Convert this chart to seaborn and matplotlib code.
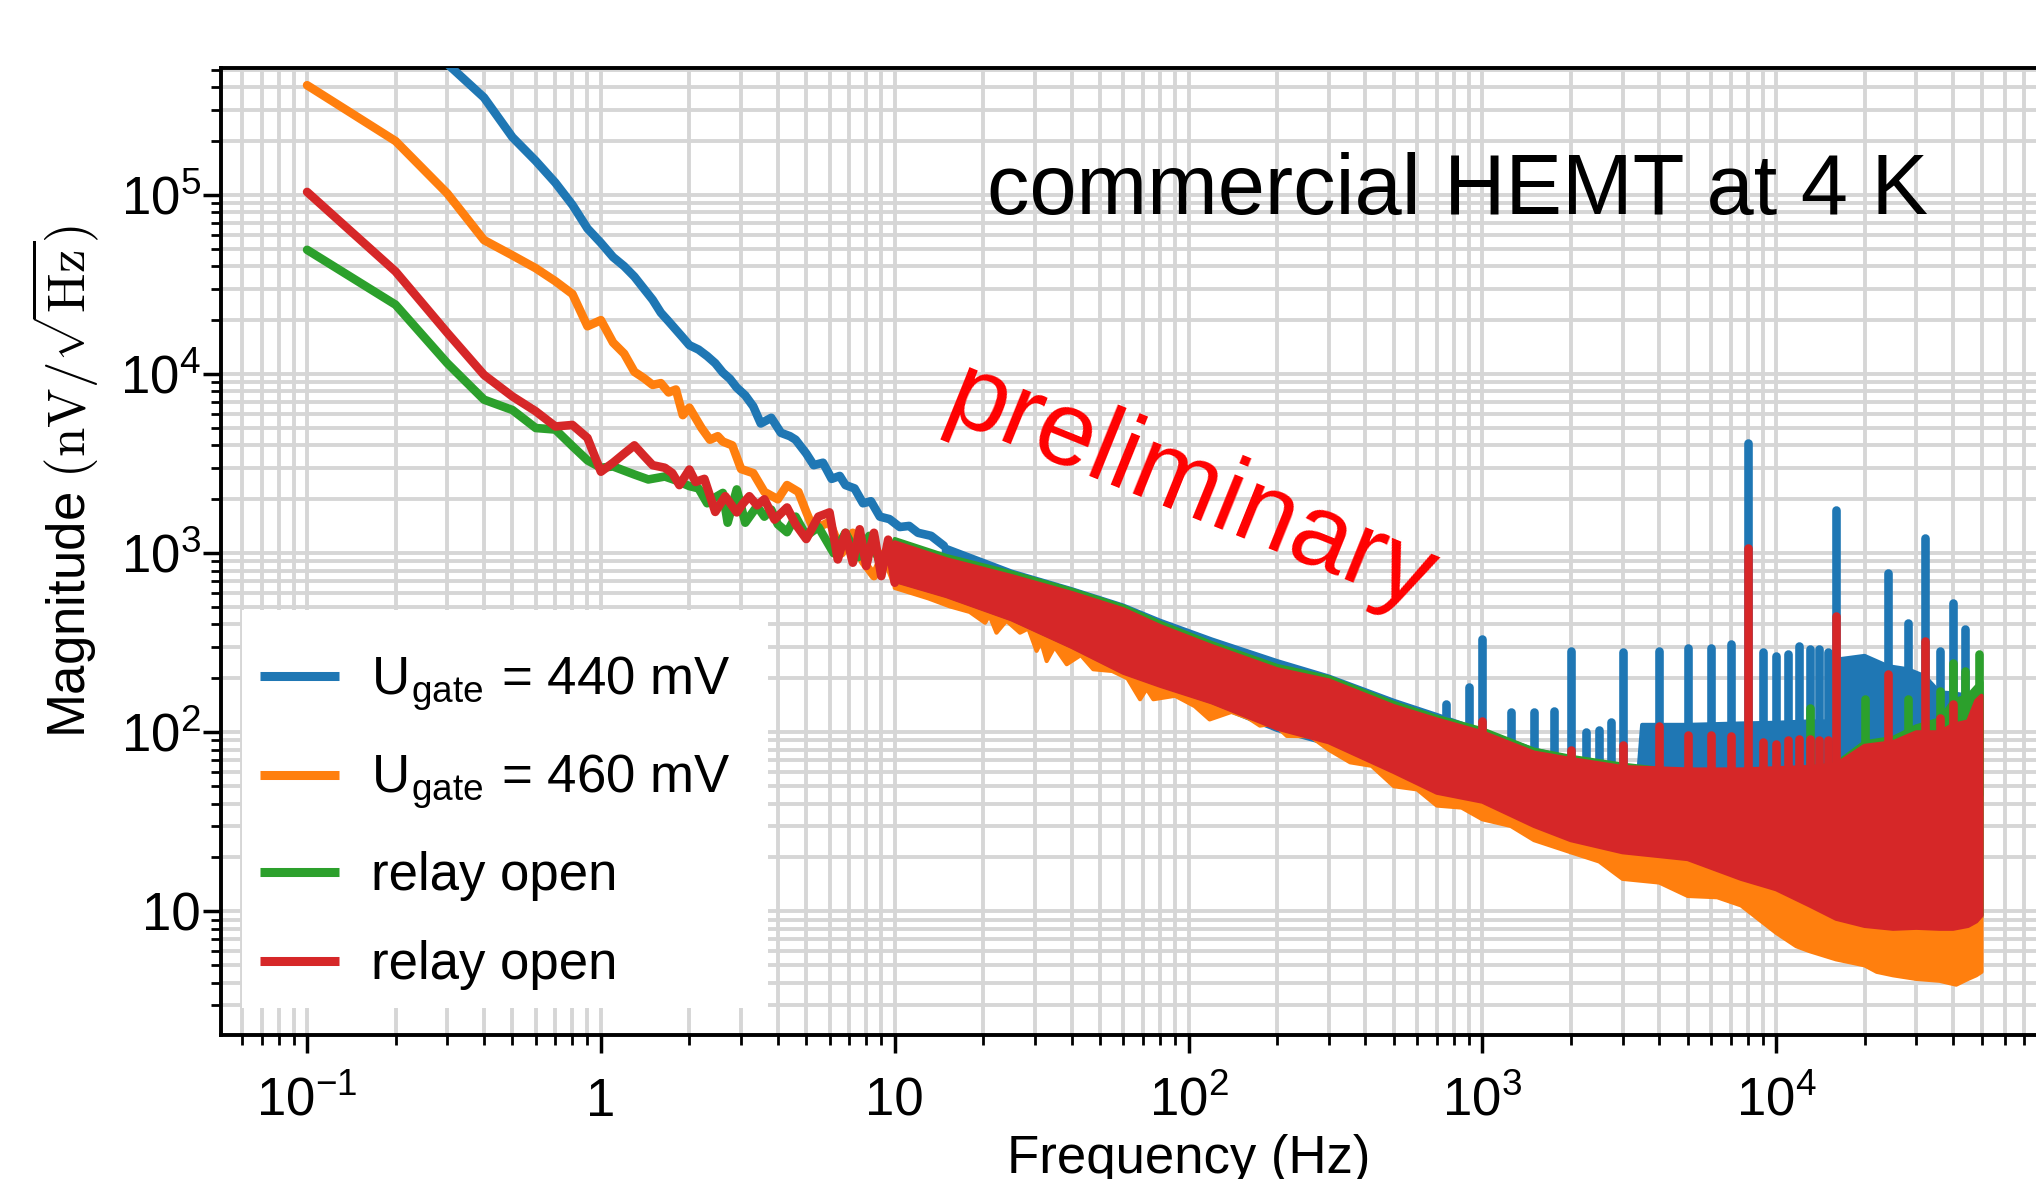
import numpy as np
import matplotlib
matplotlib.use('Agg')
import matplotlib.pyplot as plt
import seaborn as sns
from matplotlib.lines import Line2D
from matplotlib.patches import Rectangle
from matplotlib.ticker import LogLocator, FixedLocator, NullFormatter, FuncFormatter

# ------------------------------------------------------------------
# values (Hz, nV/sqrt(Hz))
# ------------------------------------------------------------------
labels = [r'U$_{\mathdefault{gate}}$ = 440 mV', r'U$_{\mathdefault{gate}}$ = 460 mV',
          'relay open', 'relay open']

# low frequency bins, resolved as single lines
blue_lf_f = [0.1, 0.2, 0.3, 0.4, 0.5, 0.6, 0.7, 0.8, 0.9, 1.0, 1.1, 1.2, 1.3, 1.4, 1.5, 1.6, 1.7,
             1.8, 1.9, 2.0, 2.15, 2.3, 2.45, 2.6, 2.75, 2.9, 3.1, 3.3, 3.5, 3.8, 4.1, 4.4, 4.6,
             5.0, 5.3, 5.7, 6.1, 6.5, 6.8, 7.3, 7.8, 8.3, 8.9, 9.6, 10.4, 11.2, 12.0, 13.3, 14.7]
blue_lf_v = [3.0e6, 1.2e6, 5.4e5, 3.5e5, 2.1e5, 1.55e5, 1.17e5, 8.8e4, 6.5e4, 5.4e4, 4.5e4, 4.0e4,
             3.5e4, 3.0e4, 2.6e4, 2.2e4, 1.97e4, 1.77e4, 1.6e4, 1.45e4, 1.37e4, 1.26e4, 1.15e4,
             1.02e4, 9.4e3, 8.4e3, 7.6e3, 6.6e3, 5.3e3, 5.7e3, 4.7e3, 4.5e3, 4.3e3, 3.6e3, 3.1e3,
             3.2e3, 2.6e3, 2.7e3, 2.4e3, 2.3e3, 1.9e3, 1.95e3, 1.6e3, 1.55e3, 1.4e3, 1.42e3, 1.3e3,
             1.25e3, 1.1e3]

orange_lf_f = [0.1, 0.2, 0.3, 0.4, 0.5, 0.6, 0.7, 0.8, 0.9, 1.0, 1.1, 1.2, 1.3, 1.4, 1.5, 1.6, 1.7,
               1.8, 1.9, 2.0, 2.2, 2.35, 2.5, 2.6, 2.8, 3.0, 3.3, 3.6, 4.0, 4.3, 4.7, 5.0, 5.3,
               6.0, 6.6, 7.2, 7.8, 8.5, 9.2, 10.0]
orange_lf_v = [4.1e5, 2.0e5, 1.02e5, 5.6e4, 4.6e4, 3.9e4, 3.3e4, 2.8e4, 1.85e4, 2.0e4, 1.5e4, 1.3e4,
               1.03e4, 9.5e3, 8.7e3, 8.9e3, 7.9e3, 8.2e3, 5.9e3, 6.5e3, 5.0e3, 4.3e3, 4.5e3, 4.2e3,
               4.0e3, 2.95e3, 2.8e3, 2.2e3, 2.0e3, 2.4e3, 2.2e3, 1.7e3, 1.35e3,
               1.5e3, 1.0e3, 1.3e3, 900, 745, 1.0e3, 700]

green_lf_f = [0.1, 0.2, 0.3, 0.4, 0.5, 0.6, 0.7, 0.8, 0.9, 1.0, 1.1, 1.3, 1.45, 1.65, 1.8, 2.0, 2.15,
              2.3, 2.45, 2.6, 2.7, 2.9, 3.1, 3.4, 3.6, 3.8, 4.0, 4.3, 4.6, 5.0, 5.5,
              6.2, 6.8, 7.5, 8.2, 9.0, 9.6, 10.0]
green_lf_v = [4.94e4, 2.44e4, 1.15e4, 7.2e3, 6.3e3, 5.0e3, 4.9e3, 3.96e3, 3.3e3, 3.0e3, 3.05e3, 2.75e3,
              2.58e3, 2.68e3, 2.55e3, 2.37e3, 2.3e3, 1.9e3, 2.05e3, 2.17e3, 1.48e3, 2.27e3, 1.48e3,
              1.83e3, 1.6e3, 1.75e3, 1.45e3, 1.31e3, 1.6e3, 1.25e3, 1.4e3,
              1.0e3, 1.3e3, 950, 1.25e3, 850, 1.15e3, 760]

red_lf_f = [0.1, 0.2, 0.3, 0.4, 0.5, 0.6, 0.7, 0.8, 0.9, 1.0, 1.1, 1.2, 1.3, 1.4, 1.5, 1.65, 1.75, 1.85,
            2.0, 2.1, 2.25, 2.45, 2.65, 2.9, 3.05, 3.2, 3.4, 3.6, 3.9, 4.3, 4.6, 5.0, 5.5, 6.0, 6.4,
            6.8, 7.2, 7.6, 8.0, 8.5, 9.0, 9.5, 10.0]
red_lf_v = [1.04e5, 3.74e4, 1.7e4, 9.9e3, 7.5e3, 6.2e3, 5.1e3, 5.2e3, 4.4e3, 2.85e3, 3.2e3, 3.6e3,
            4.0e3, 3.5e3, 3.1e3, 3.0e3, 2.8e3, 2.4e3, 2.93e3, 2.5e3, 2.6e3, 1.7e3, 2.08e3, 1.69e3,
            1.9e3, 2.08e3, 1.85e3, 2.0e3, 1.54e3, 1.8e3, 1.45e3, 1.2e3, 1.6e3, 1.69e3, 923,
            1.3e3, 885, 1.36e3, 848, 1.3e3, 745, 1.19e3, 684]

# dense high frequency part: upper / lower envelope of the noise band
blue_band_f = [14.7, 25, 40, 60, 80, 120, 200, 300, 500, 700, 1000, 1500, 2000, 3000, 3400, 3500,
               5000, 7600, 10000, 13000, 16000, 16500, 20000, 24000, 28000, 32000, 36000, 40000,
               45000, 50000]
blue_band_hi = [1.1e3, 790, 630, 510, 420, 330, 250, 205, 150, 125, 102, 80, 72, 60, 60, 110,
                110, 112, 113, 115, 115, 256, 267, 234, 225, 206, 167, 165, 160, 165]
blue_band_lo = [900, 420, 295, 210, 178, 145, 103, 86, 60, 46, 40, 30, 25, 21, 20.5, 20,
                19, 15, 13, 10.5, 9, 8.8, 8.2, 8.0, 8.0, 8.0, 8.0, 8.0, 8.4, 9.3]

band_f = [10, 15, 25, 40, 60, 80, 120, 200, 300, 500, 700, 1000, 1500, 2000, 3000, 5000,
          7600, 10000, 13000, 16000, 20000, 25000, 30000, 36000, 40000, 45000, 48000, 50000]

orange_band_hi = [1.05e3, 850, 680, 550, 440, 360, 280, 210, 180, 130, 108, 92, 72, 65, 55,
                  50, 48, 50, 52, 55, 65, 70, 80, 85, 90, 95, 100, 110]
# the orange lower edge is ragged: dips and the points between them
orange_lo_f = [10, 13, 15.4, 18, 20.3, 21, 22.2, 24, 26.7, 28.5, 30.4, 31.5, 32.9, 35, 38.5, 43,
               47.4, 55, 62, 68.4, 72, 75.9, 90, 105, 118, 140, 160, 175, 195, 216, 260, 300,
               355, 420, 500, 600, 700, 850, 1000, 1250, 1500, 2000, 2500, 3000, 4000, 5000,
               6300, 7600, 10000, 11700, 13000, 16000, 20000, 22000, 25000, 30000, 36000, 41000,
               45000, 48000, 50000]
orange_lo_v = [640, 560, 505, 470, 409, 450, 360, 420, 360, 380, 285, 320, 250, 300, 240, 270,
               225, 220, 200, 153, 175, 153, 160, 140, 118, 130, 120, 109, 112, 95.5, 95, 80,
               68, 65, 50, 48, 39, 38, 32.7, 30, 25, 21.4, 19, 15.2, 14.5, 12.2,
               12, 10.8, 7.6, 6.4, 6.0, 5.4, 5.0, 4.6, 4.4, 4.2, 4.1, 3.9,
               4.2, 4.4, 4.6]

green_band_hi = [1.2e3, 965, 780, 625, 505, 410, 315, 235, 203, 146, 122, 104, 80, 73, 66,
                 60, 58, 60, 63, 67, 88, 93, 108, 118, 150, 160, 180, 190]
green_band_lo = [705, 580, 430, 302, 217, 184, 148, 106, 89, 61, 47, 41.5, 30.5, 25.5, 21.7,
                 19.8, 15.4, 13.5, 11.0, 9.2, 8.4, 8.1, 8.2, 8.1, 8.1, 8.4, 8.9, 9.6]

red_band_hi = [1.15e3, 925, 745, 600, 486, 392, 303, 225, 195, 140, 118, 100, 77, 71, 64,
               62, 62, 63, 64, 66, 84, 88, 100, 100, 110, 115, 150, 160]
red_band_lo = [700, 576, 427, 300, 215, 182, 147, 105, 88, 60, 46, 41, 30, 25, 21.4,
               19.6, 15.2, 13.3, 10.8, 9.1, 8.3, 8.0, 8.1, 8.0, 8.0, 8.3, 8.8, 9.5]

# narrow pick-up lines (frequency, peak value)
blue_spike_f = [750, 900, 1000, 1250, 1500, 1750, 2000, 2250, 2500, 2750, 3000, 4000, 5000, 6000,
                7000, 8000, 9000, 10000, 11000, 12000, 13000, 14000, 15000, 16000, 24000, 28000,
                32000, 36000, 40000, 44000]
blue_spike_v = [144, 178, 330, 129, 130, 131, 285, 100, 103, 114, 279, 285, 297, 297, 310, 4100,
                279, 267, 273, 303, 290, 290, 279, 1750, 779, 410, 1220, 285, 530, 376]
green_spike_f = [13000, 20000, 28000, 36000, 40000, 44000, 49000]
green_spike_v = [137, 153, 153, 170, 245, 220, 273]
red_spike_f = [1000, 2000, 3000, 4000, 5000, 6000, 7000, 8000, 9000, 10000, 11000, 12000, 13000,
               14000, 15000, 16000, 24000, 32000, 36000, 40000, 44000]
red_spike_v = [116, 80, 85, 109, 97, 97, 95, 1070, 88, 86, 90, 92, 92, 90, 90, 446, 211, 324, 120,
               144, 96]

# ------------------------------------------------------------------
sns.set_style('ticks')
plt.rcParams['font.family'] = ['Liberation Sans', 'DejaVu Sans']
plt.rcParams['mathtext.fontset'] = 'cm'
plt.rcParams['axes.unicode_minus'] = False
for key in ['text.color', 'axes.labelcolor', 'xtick.color', 'ytick.color', 'axes.edgecolor']:
    plt.rcParams[key] = 'black'

colors = sns.color_palette('tab10')[:4]
LW = 6.2        # data lines and spikes
BAND_LW = 3     # outline of the dense noise band
SPIKE_BASE = 45

fig = plt.figure(figsize=(20.36, 11.79), dpi=100)
ax = fig.add_axes([0.10855, 0.12214, 0.90668, 0.82019])

# (line f, line v, upper edge f, upper edge v, lower edge f, lower edge v, spikes f, spikes v)
series = [
    (blue_lf_f, blue_lf_v, blue_band_f, blue_band_hi, blue_band_f, blue_band_lo,
     blue_spike_f, blue_spike_v),
    (orange_lf_f, orange_lf_v, band_f, orange_band_hi, orange_lo_f, orange_lo_v, [], []),
    (green_lf_f, green_lf_v, band_f, green_band_hi, band_f, green_band_lo,
     green_spike_f, green_spike_v),
    (red_lf_f, red_lf_v, band_f, red_band_hi, band_f, red_band_lo, red_spike_f, red_spike_v),
]

for i, (lf_f, lf_v, hf, hv, lof, lov, sf, sv) in enumerate(series):
    z = 3 + i
    c = colors[i]
    sns.lineplot(x=lf_f, y=lf_v, ax=ax, color=c, zorder=z,
                 estimator=None, sort=False, legend=False)
    ax.lines[-1].set_linewidth(LW)
    ax.lines[-1].set_solid_joinstyle('round')
    ax.fill(list(hf) + list(lof)[::-1], list(hv) + list(lov)[::-1], color=c, lw=BAND_LW,
            zorder=z, joinstyle='round')
    if sf:
        ax.vlines(sf, SPIKE_BASE, sv, colors=[c], lw=LW, zorder=z, capstyle='round')

ax.set_xscale('log')
ax.set_yscale('log')
ax.set_xlim(10 ** -1.293, 10 ** 4.990)
ax.set_ylim(10 ** 0.31, 10 ** 5.709)


def log_label(v, pos):
    e = int(round(np.log10(v)))
    if e == 0:
        return '1'
    if e == 1:
        return '10'
    return r'$\mathdefault{10^{%d}}$' % e


ax.xaxis.set_major_locator(FixedLocator([0.1, 1, 10, 100, 1e3, 1e4]))
ax.yaxis.set_major_locator(FixedLocator([10, 100, 1e3, 1e4, 1e5]))
for axis in (ax.xaxis, ax.yaxis):
    axis.set_minor_locator(LogLocator(base=10, subs=np.arange(2, 10), numticks=30))
    axis.set_minor_formatter(NullFormatter())
    axis.set_major_formatter(FuncFormatter(log_label))

ax.set_axisbelow(True)
ax.grid(True, which='both', color='#d6d6d6', lw=2.8)

for sp in ax.spines.values():
    sp.set_linewidth(2.8)
    sp.set_color('black')

ax.tick_params(which='major', direction='out', length=13, width=2.5, labelsize=38,
               top=False, right=False, colors='black')
ax.tick_params(which='minor', direction='out', length=7.5, width=2, top=False, right=False)
ax.tick_params(axis='x', which='major', pad=45)
ax.tick_params(axis='y', which='major', pad=1.5)

fig.canvas.draw()
for lbl in ax.get_xticklabels():
    lbl.set_va('baseline')

ax.set_xlabel('Frequency (Hz)', fontsize=38, va='top')
ax.xaxis.set_label_coords(0.524, -0.1024)
ax.set_ylabel(r'Magnitude $(\mathrm{nV}/\sqrt{\mathrm{Hz}})$', fontsize=38)
ax.yaxis.set_label_coords(-0.065, 0.572)

# white legend box, then the legend entries on top of it
ax.add_patch(Rectangle((0.1189, 0.1450), 0.2583, 0.3376, transform=fig.transFigure,
                       facecolor='white', edgecolor='none', zorder=9, clip_on=False))
handles = [Line2D([], [], color=colors[i], lw=6.5, solid_capstyle='butt') for i in range(4)]
leg = ax.legend(handles, labels, loc='upper left', bbox_to_anchor=(0.1276, 0.4449),
                bbox_transform=fig.transFigure, fontsize=38, frameon=False,
                handlelength=1.5, handletextpad=0.6, labelspacing=0.74, borderpad=0,
                borderaxespad=0)
leg.set_zorder(10)

fig.text(987 / 2036, 1 - 214 / 1179, 'commercial HEMT at 4 K', fontsize=61,
         ha='left', va='baseline')
fig.text(1190 / 2036, 1 - 490 / 1179, 'preliminary', fontsize=76, color='red',
         rotation=-22, ha='center', va='center')

fig.savefig('out.png', dpi=100)
